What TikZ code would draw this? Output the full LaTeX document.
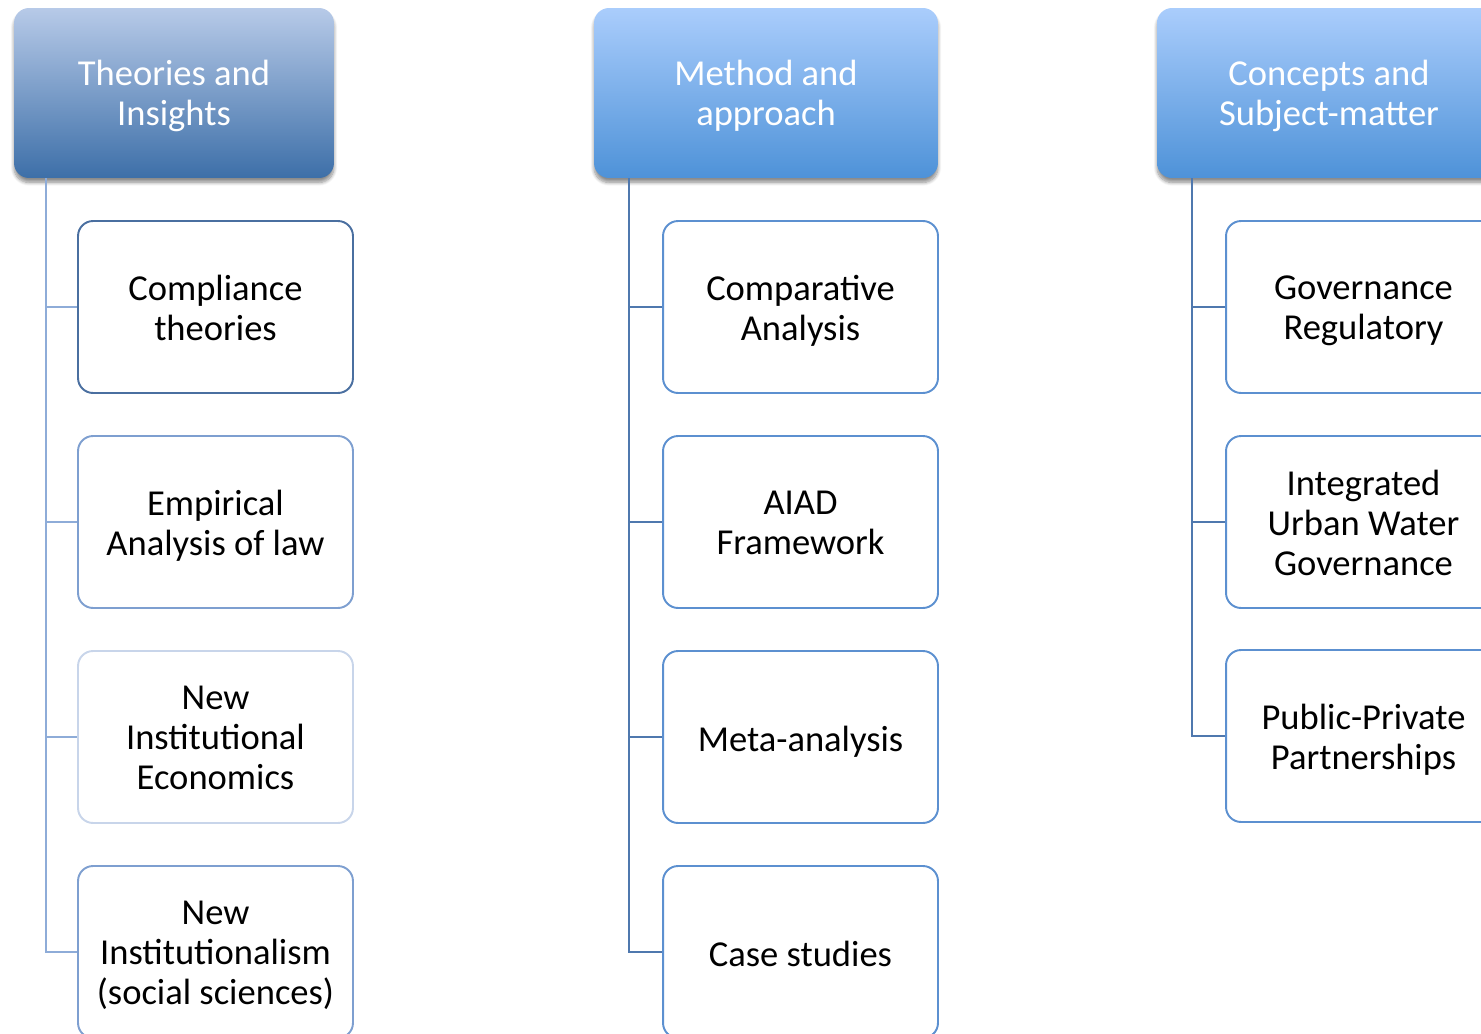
\documentclass[tikz,border=0pt]{standalone}
\usepackage{fontspec}
\setmainfont{Carlito}
\usetikzlibrary{shadows.blur,calc}
\definecolor{hOneTop}{HTML}{B7CAE8}
\definecolor{hOneBot}{HTML}{3D6FA8}
\definecolor{hTwoTop}{HTML}{AACDFC}
\definecolor{hTwoBot}{HTML}{4E92D8}
\definecolor{lineOne}{HTML}{8EACD8}
\definecolor{lineTwo}{HTML}{4F78AE}
\definecolor{bxDark}{HTML}{4A6FA0}
\definecolor{bxMid}{HTML}{7E9FD0}
\definecolor{bxLight}{HTML}{C8D5EA}
\definecolor{bxBlue}{HTML}{5C90D0}
\tikzset{
  lbl/.style={font=\fontsize{20.8}{22.7}\selectfont, align=center, inner sep=0pt,
    execute at begin node=\strut, execute at end node=\strut},
  hlbl/.style={lbl, text=white},
  clbl/.style={lbl, text=black},
  hdrbox/.style={rectangle, rounded corners=0.3cm, minimum height=3.4cm,
    blur shadow={shadow xshift=0pt, shadow yshift=-0.09cm, shadow blur steps=8, shadow opacity=45}},
  childbox/.style={rectangle, rounded corners=0.3cm, minimum width=5.5cm,
    minimum height=3.44cm, draw, line width=1.1pt, fill=white},
  conn/.style={line width=1.1pt}
}
\begin{document}
\begin{tikzpicture}[x=0.02cm,y=-0.02cm]
\useasboundingbox (0,0) rectangle (1481,1034);
\clip (0,0) rectangle (1481,1034);
% headers
\node[hdrbox, minimum width=6.4cm, top color=hOneTop, bottom color=hOneBot] (h1) at (174,93) {};
\node[hdrbox, minimum width=6.88cm, top color=hTwoTop, bottom color=hTwoBot] (h2) at (766,93) {};
\node[hdrbox, minimum width=6.88cm, top color=hTwoTop, bottom color=hTwoBot] (h3) at (1329,93) {};
\node[hlbl] (h1t) at ($(h1)+(0,6)$) {Theories and\\Insights};
\node[hlbl] (h2t) at ($(h2)+(0,6)$) {Method and\\approach};
\node[hlbl] (h3t) at ($(h3)+(0,6)$) {Concepts and\\Subject-matter};
% column 1
\node[childbox, draw=bxDark] (a1) at (215.5,307) {};
\node[childbox, draw=bxMid] (a2) at (215.5,522) {};
\node[childbox, draw=bxLight] (a3) at (215.5,737) {};
\node[childbox, draw=bxMid] (a4) at (215.5,952) {};
\node[clbl] (a1t) at ($(a1)+(0,6.5)$) {Compliance\\theories};
\node[clbl] (a2t) at ($(a2)+(0,6.5)$) {Empirical\\Analysis of law};
\node[clbl] (a3t) at ($(a3)+(0,6.5)$) {New\\Institutional\\Economics};
\node[clbl] (a4t) at ($(a4)+(0,6.5)$) {New\\Institutionalism\\(social sciences)};
% column 2
\node[childbox, draw=bxBlue] (b1) at (800.5,307) {};
\node[childbox, draw=bxBlue] (b2) at (800.5,522) {};
\node[childbox, draw=bxBlue] (b3) at (800.5,737) {};
\node[childbox, draw=bxBlue] (b4) at (800.5,952) {};
\node[clbl] (b1t) at ($(b1)+(0,6.5)$) {Comparative\\Analysis};
\node[clbl] (b2t) at ($(b2)+(0,6.5)$) {AIAD\\Framework};
\node[clbl] (b3t) at ($(b3)+(0,6.5)$) {Meta-analysis};
\node[clbl] (b4t) at ($(b4)+(0,6.5)$) {Case studies};
% column 3
\node[childbox, draw=bxBlue] (c1) at (1363.5,307) {};
\node[childbox, draw=bxBlue] (c2) at (1363.5,522) {};
\node[childbox, draw=bxBlue] (c3) at (1363.5,736) {};
\node[clbl] (c1t) at ($(c1)+(0,6.5)$) {Governance\\Regulatory};
\node[clbl] (c2t) at ($(c2)+(0,6.5)$) {Integrated\\Urban Water\\Governance};
\node[clbl] (c3t) at ($(c3)+(0,6.5)$) {Public-Private\\Partnerships};
% trunks
\coordinate (t1) at ($(h1.south west)+(32,0)$);
\coordinate (t2) at ($(h2.south west)+(35,0)$);
\coordinate (t3) at ($(h3.south west)+(35,0)$);
\draw[conn, draw=lineOne] (t1) |- (a4.west);
\foreach \n in {a1,a2,a3} \draw[conn, draw=lineOne] (\n.west -| t1) -- (\n.west);
\draw[conn, draw=lineTwo] (t2) |- (b4.west);
\foreach \n in {b1,b2,b3} \draw[conn, draw=lineTwo] (\n.west -| t2) -- (\n.west);
\draw[conn, draw=lineTwo] (t3) |- (c3.west);
\foreach \n in {c1,c2} \draw[conn, draw=lineTwo] (\n.west -| t3) -- (\n.west);
\end{tikzpicture}
\end{document}
